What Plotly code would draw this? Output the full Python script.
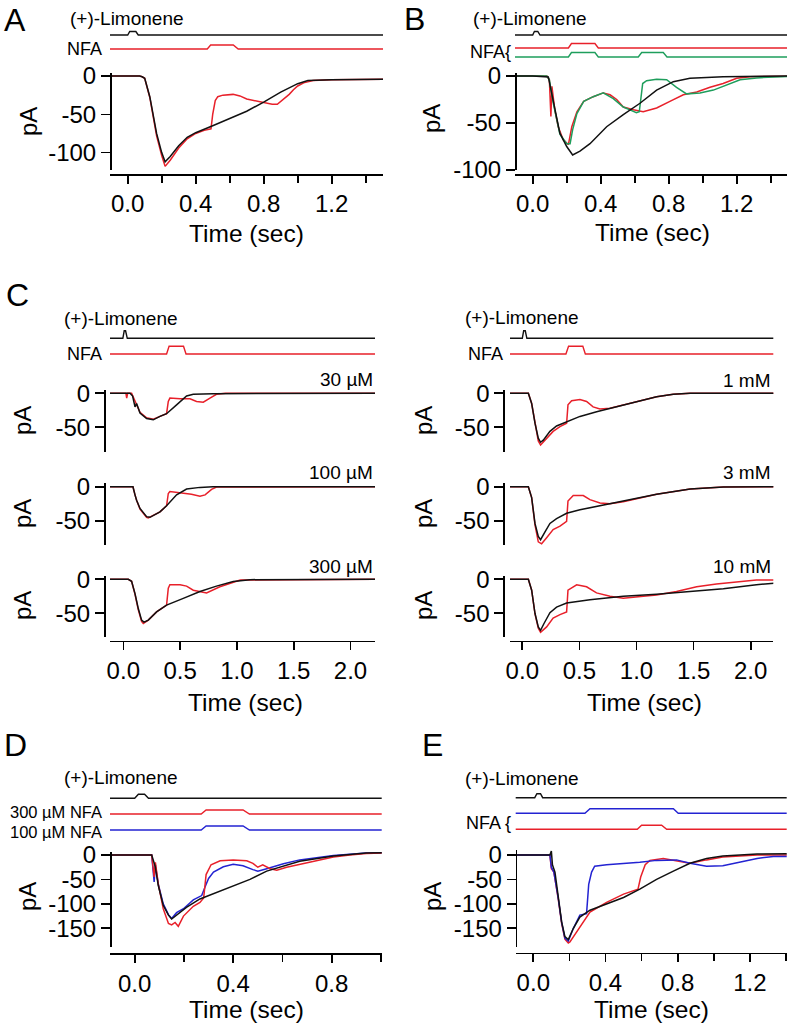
import plotly.graph_objects as go

W, H = 789, 1026
FONT = "Arial, 'Liberation Sans', Helvetica, sans-serif"
BLACK = "#111111"
RED = "#e8202a"
GREEN = "#1e9e5c"
BLUE = "#2323d2"

# ---------------- DATA ----------------
# Panel A
A_ctrl_t = [-0.12, 0.0, 0.07, 0.085, 0.1, 0.13, 0.17, 0.2, 0.22, 0.25, 0.3, 0.35, 0.4, 0.5, 0.6, 0.7, 0.8, 0.9, 1.0, 1.06, 1.2, 1.35, 1.55]
A_ctrl = [0, 0, 0, -1, -3, -27, -75, -100, -112, -105, -91, -80, -74, -65, -56, -46, -34, -21, -10, -6, -5, -5, -4]
A_nfa_t = [-0.12, 0.0, 0.07, 0.085, 0.1, 0.13, 0.17, 0.2, 0.22, 0.25, 0.3, 0.35, 0.4, 0.45, 0.49, 0.5, 0.515, 0.53, 0.56, 0.62, 0.66, 0.7, 0.74, 0.8, 0.85, 0.88, 0.915, 0.95, 0.975, 1.0, 1.035, 1.09, 1.2, 1.55]
A_nfa = [0, 0, 0, -1, -3, -28, -78, -104, -118, -110, -94, -82, -75, -71, -69, -50, -32, -27, -25, -24, -26, -30, -32, -35, -37, -37, -31, -24, -18, -13, -9, -6, -5, -4]
A_lim_t = [-0.12, 0.0, 0.012, 0.048, 0.062, 1.55]
A_lim_v = [0, 0, 1, 1, 0, 0]
A_cmd_t = [-0.12, 0.468, 0.488, 0.621, 0.65, 1.55]
A_cmd_v = [0, 0, 1, 1, 0, 0]

# Panel B
B_ctrl_t = [-0.12, 0.0, 0.092, 0.1, 0.12, 0.16, 0.2, 0.235, 0.278, 0.337, 0.435, 0.533, 0.631, 0.729, 0.827, 0.925, 1.12, 1.55]
B_ctrl = [0, 0, -1, -8, -25, -61, -75, -84, -80, -72, -54, -41, -29, -15, -6, -2.5, -0.7, 0]
B_red_t = [-0.12, 0.083, 0.098, 0.107, 0.113, 0.13, 0.15, 0.18, 0.21, 0.23, 0.26, 0.3, 0.356, 0.415, 0.455, 0.494, 0.533, 0.592, 0.65, 0.729, 0.807, 0.886, 0.965, 1.043, 1.12, 1.2, 1.278, 1.55]
B_red = [0, 0, -4, -43, -11, -36, -54, -68, -73, -54, -38, -27, -22, -18, -20, -25, -33, -36, -38, -34, -27, -20, -17, -12, -8, -2.5, -0.7, 0]
B_grn_t = [-0.12, 0.083, 0.098, 0.12, 0.16, 0.2, 0.22, 0.235, 0.26, 0.3, 0.356, 0.415, 0.474, 0.533, 0.572, 0.61, 0.627, 0.647, 0.67, 0.729, 0.788, 0.846, 0.905, 0.984, 1.063, 1.14, 1.22, 1.317, 1.55]
B_grn = [0, 0, -4, -28, -62, -72, -72, -57, -40, -27, -22, -18, -24, -33, -36, -39, -38, -8, -5, -3.5, -4, -12, -19, -18, -15, -10, -4, -2, 0]
B_lim_t = [-0.12, 0.0, 0.01, 0.03, 0.043, 1.55]
B_lim_v = [0, 0, 1, 1, 0, 0]
B_cmd1_t = [-0.12, 0.21, 0.228, 0.366, 0.386, 1.55]
B_cmd1_v = [0, 0, 1, 1, 0, 0]
B_cmd2_t = [-0.12, 0.21, 0.228, 0.366, 0.386, 0.621, 0.641, 0.768, 0.79, 1.55]
B_cmd2_v = [0, 0, 1, 1, 0, 0, 1, 1, 0, 0]

# Panel C, left column (30, 100, 300 uM NFA)
C30_ctrl_t = [-0.13, 0.059, 0.082, 0.103, 0.117, 0.147, 0.205, 0.264, 0.323, 0.381, 0.469, 0.557, 0.616, 0.79, 2.25]
C30_ctrl = [0, 0, -4, -20, -15, -29, -37, -39, -34, -30, -17, -4, -1.5, -0.5, 0]
C30_nfa_t = [-0.13, 0.023, 0.03, 0.038, 0.073, 0.103, 0.147, 0.205, 0.264, 0.323, 0.381, 0.396, 0.41, 0.5, 0.587, 0.645, 0.704, 0.763, 0.82, 0.9, 2.25]
C30_nfa = [0, 0, -7, 0, 0, -12, -28, -36, -38, -34, -30, -12, -7, -8, -8, -12, -13, -7, -1.5, 0, 0]
C100_ctrl_t = [-0.13, 0.085, 0.103, 0.117, 0.147, 0.205, 0.235, 0.323, 0.381, 0.469, 0.557, 0.675, 0.79, 2.25]
C100_ctrl = [0, 0, -12, -20, -32, -44, -45, -37, -28, -12, -3.4, -1, 0, 0]
C100_nfa_t = [-0.13, 0.085, 0.103, 0.117, 0.147, 0.205, 0.22, 0.323, 0.381, 0.396, 0.41, 0.528, 0.6, 0.675, 0.72, 0.777, 0.82, 2.25]
C100_nfa = [0, 0, -12, -20, -33, -45, -46, -37, -28, -10, -7, -9, -11, -14, -12, -4, -0.5, 0]
C300_ctrl_t = [-0.13, 0.044, 0.073, 0.103, 0.132, 0.161, 0.182, 0.22, 0.293, 0.381, 0.528, 0.675, 0.82, 0.968, 1.115, 2.25]
C300_ctrl = [0, 0, -3, -21, -43, -60, -63, -60, -48, -38, -28, -18, -10, -3.4, -0.5, 0]
C300_nfa_t = [-0.13, 0.044, 0.073, 0.103, 0.132, 0.161, 0.176, 0.22, 0.293, 0.381, 0.396, 0.41, 0.5, 0.557, 0.616, 0.733, 0.85, 0.94, 1.03, 2.25]
C300_nfa = [0, 0, -3, -22, -45, -62, -65, -60, -48, -38, -13, -8, -8, -10, -16, -20, -11, -6, -1, 0]
CL_lim_t = [-0.13, -0.004, 0.008, 0.02, 0.035, 2.25]
CL_lim_v = [0, 0, 1, 1, 0, 0]
CL_cmd_t = [-0.13, 0.381, 0.403, 0.53, 0.552, 2.25]
CL_cmd_v = [0, 0, 1, 1, 0, 0]

# Panel C, right column (1, 3, 10 mM NFA)
C1_ctrl_t = [-0.13, 0.053, 0.082, 0.111, 0.14, 0.16, 0.184, 0.242, 0.3, 0.388, 0.505, 0.651, 0.884, 1.06, 1.176, 1.322, 1.47, 2.25]
C1_ctrl = [0, 0, -15, -44, -66, -72, -69, -56, -48, -42, -34, -27, -17, -9, -5, -1.5, 0, 0]
C1_nfa_t = [-0.13, 0.053, 0.082, 0.111, 0.14, 0.16, 0.213, 0.27, 0.33, 0.388, 0.4, 0.432, 0.505, 0.563, 0.62, 0.68, 0.768, 0.884, 1.06, 1.176, 1.322, 1.47, 2.25]
C1_nfa = [0, 0, -15, -45, -70, -76, -66, -56, -49, -44, -17, -11, -9, -12, -20, -23, -22, -17, -9, -5, -1.5, 0, 0]
C3_ctrl_t = [-0.13, 0.053, 0.082, 0.111, 0.14, 0.16, 0.2, 0.242, 0.3, 0.388, 0.505, 0.651, 0.884, 1.176, 1.47, 1.76, 2.25]
C3_ctrl = [0, 0, -16, -54, -73, -78, -66, -54, -47, -39, -34, -29, -22, -11, -3.4, -0.5, 0]
C3_nfa_t = [-0.13, 0.053, 0.082, 0.111, 0.14, 0.169, 0.213, 0.27, 0.33, 0.388, 0.4, 0.446, 0.534, 0.592, 0.68, 0.768, 0.884, 1.176, 1.47, 1.76, 2.25]
C3_nfa = [0, 0, -16, -56, -81, -84, -75, -63, -58, -51, -21, -13, -13, -19, -24, -25, -22, -11, -3.4, -0.5, 0]
C10_ctrl_t = [-0.13, 0.053, 0.082, 0.111, 0.14, 0.16, 0.19, 0.242, 0.3, 0.388, 0.592, 0.884, 1.176, 1.47, 1.76, 2.05, 2.25]
C10_ctrl = [0, 0, -16, -50, -70, -75, -65, -49, -41, -35, -30, -25, -22, -18, -14, -8, -5]
C10_nfa_t = [-0.13, 0.053, 0.082, 0.111, 0.14, 0.16, 0.213, 0.27, 0.33, 0.388, 0.4, 0.476, 0.563, 0.65, 0.768, 0.884, 1.06, 1.176, 1.35, 1.527, 1.7, 1.906, 2.05, 2.25]
C10_nfa = [0, 0, -16, -51, -72, -78, -70, -57, -52, -48, -16, -8, -11, -20, -25, -28, -25, -23, -18, -11, -7, -3.4, -1, -1]
CR_lim_t = [-0.13, 0.0, 0.012, 0.026, 0.04, 2.25]
CR_lim_v = [0, 0, 1, 1, 0, 0]
CR_cmd_t = [-0.13, 0.382, 0.405, 0.53, 0.552, 2.25]
CR_cmd_v = [0, 0, 1, 1, 0, 0]

# Panel D
D_ctrl_t = [-0.12, 0.069, 0.083, 0.096, 0.116, 0.137, 0.15, 0.17, 0.21, 0.265, 0.333, 0.4, 0.468, 0.536, 0.604, 0.67, 0.807, 0.94, 1.05]
D_ctrl = [0, 0, -23, -63, -103, -123, -131, -123, -107, -90, -77, -63, -50, -33, -23, -13, -2, 4, 5]
D_300_t = [-0.12, 0.069, 0.079, 0.084, 0.096, 0.116, 0.137, 0.15, 0.164, 0.177, 0.198, 0.238, 0.265, 0.28, 0.29, 0.31, 0.347, 0.4, 0.455, 0.48, 0.5, 0.52, 0.55, 0.577, 0.617, 0.67, 0.74, 0.807, 0.874, 0.94, 1.05]
D_300 = [0, 0, -45, -15, -60, -110, -140, -143, -138, -146, -125, -105, -97, -88, -40, -20, -12, -10, -12, -17, -25, -20, -28, -31, -25, -19, -11, -4, 0, 3, 5]
D_100_t = [-0.12, 0.069, 0.079, 0.084, 0.096, 0.116, 0.137, 0.15, 0.17, 0.198, 0.238, 0.272, 0.286, 0.3, 0.32, 0.36, 0.4, 0.44, 0.48, 0.5, 0.536, 0.604, 0.67, 0.807, 0.94, 1.05]
D_100 = [0, 0, -55, -20, -60, -100, -122, -130, -118, -110, -92, -83, -65, -48, -35, -24, -19, -22, -30, -33, -28, -18, -10, -1, 4, 5]
D_lim_t = [-0.12, 0.0, 0.015, 0.04, 0.056, 1.05]
D_lim_v = [0, 0, 1, 1, 0, 0]
D_cmd_t = [-0.12, 0.27, 0.29, 0.44, 0.466, 1.05]
D_cmd_v = [0, 0, 1, 1, 0, 0]

# Panel E
E_ctrl_t = [-0.12, 0.092, 0.1, 0.106, 0.12, 0.138, 0.157, 0.175, 0.194, 0.222, 0.258, 0.314, 0.406, 0.5, 0.59, 0.683, 0.776, 0.868, 0.96, 1.05, 1.24, 1.45]
E_ctrl = [0, 0, 8, -20, -35, -83, -137, -167, -173, -150, -127, -113, -100, -87, -70, -50, -33, -17, -7, -2, 2, 3]
E_red_t = [-0.12, 0.092, 0.1, 0.114, 0.138, 0.157, 0.175, 0.194, 0.203, 0.24, 0.314, 0.406, 0.5, 0.58, 0.595, 0.62, 0.646, 0.72, 0.794, 0.868, 0.96, 1.05, 1.24, 1.45]
E_red = [0, 0, -28, -35, -90, -140, -172, -180, -178, -157, -117, -97, -80, -70, -45, -20, -11, -7, -12, -17, -10, -4, 0, 0]
E_blue_t = [-0.12, 0.092, 0.1, 0.114, 0.138, 0.157, 0.175, 0.194, 0.222, 0.258, 0.295, 0.307, 0.323, 0.34, 0.406, 0.5, 0.59, 0.683, 0.794, 0.868, 0.96, 1.05, 1.145, 1.24, 1.33, 1.45]
E_blue = [0, 0, -25, -35, -88, -138, -170, -176, -150, -123, -120, -60, -35, -23, -20, -18, -15, -11, -10, -17, -23, -22, -15, -7, -3, -3]
E_lim_t = [-0.12, 0.008, 0.02, 0.04, 0.052, 1.45]
E_lim_v = [0, 0, 1, 1, 0, 0]
E_cmd_blue_t = [-0.12, 0.286, 0.314, 0.776, 0.803, 1.45]
E_cmd_blue_v = [0, 0, 1, 1, 0, 0]
E_cmd_red_t = [-0.12, 0.576, 0.6, 0.711, 0.739, 1.45]
E_cmd_red_v = [0, 0, 1, 1, 0, 0]

# Tick labels
tick_A = [0.0, 0.4, 0.8, 1.2]
minor_A = [0.2, 0.6, 1.0, 1.4]
tick_C = [0.0, 0.5, 1.0, 1.5, 2.0]
tick_D = [0.0, 0.4, 0.8]
minor_D = [0.2, 0.6, 1.0]
tick_E = [0.0, 0.4, 0.8, 1.2]
minor_E = [0.2, 0.6, 1.0, 1.4]
ytick_A = [0, -50, -100]
ytick_C = [0, -50]
ytick_D = [0, -50, -100, -150]

# ---------------- helpers ----------------
fig = go.Figure()
layout = dict(
    width=W, height=H, margin=dict(l=0, r=0, t=0, b=0, pad=0, autoexpand=False),
    paper_bgcolor="white", plot_bgcolor="rgba(0,0,0,0)",
    showlegend=False, font=dict(family=FONT, color="black"),
)
annotations = []
TICKFONT = dict(family=FONT, size=24, color="black")


def fx(px):
    return px / W


def fy(py):
    return 1 - py / H


def add_x(n, left, right, zero, ppu, ypos, major, minor=None):
    ax = dict(
        domain=[fx(left), fx(right)],
        range=[(left - zero) / ppu, (right - zero) / ppu],
        anchor="free", position=fy(ypos), automargin=False,
        showline=True, linecolor="black", linewidth=1.6,
        ticks="outside", ticklen=8, tickwidth=1.6, tickcolor="black",
        tickmode="array", tickvals=major, ticktext=["%.1f" % v for v in major],
        tickfont=TICKFONT, showgrid=False, zeroline=False, fixedrange=True,
    )
    if minor:
        ax["minor"] = dict(tickmode="array", tickvals=minor, ticks="outside",
                           ticklen=7, tickwidth=1.6, tickcolor="black", showgrid=False)
    layout["xaxis" if n == 1 else "xaxis%d" % n] = ax


def add_y(n, top, bot, zero, ppp, xpos, ticks_):
    layout["yaxis" if n == 1 else "yaxis%d" % n] = dict(
        domain=[fy(bot), fy(top)],
        range=[(zero - bot) / ppp, (zero - top) / ppp],
        anchor="free", position=fx(xpos), automargin=False,
        showline=True, linecolor="black", linewidth=1.6,
        ticks="outside", ticklen=9, tickwidth=1.6, tickcolor="black",
        tickmode="array", tickvals=ticks_, ticktext=[str(v) for v in ticks_],
        tickfont=TICKFONT, showgrid=False, zeroline=False, fixedrange=True,
    )


def add_stim_axis(n, top, bot):
    layout["yaxis%d" % n] = dict(
        domain=[fy(bot), fy(top)], range=[-bot, -top], automargin=False,
        visible=False, showgrid=False, zeroline=False, fixedrange=True, anchor="free", position=0,
    )


def xr(n):
    return "x" if n == 1 else "x%d" % n


def yr(n):
    return "y" if n == 1 else "y%d" % n


def trace(xn, yn, t, v, color, width=1.5):
    fig.add_trace(go.Scatter(x=t, y=v, xaxis=xr(xn), yaxis=yr(yn), mode="lines",
                             line=dict(color=color, width=width), hoverinfo="skip"))


def stim(xn, yn, t, v, base_px, amp_px, color):
    fig.add_trace(go.Scatter(x=t, y=[-base_px + amp_px * s for s in v], xaxis=xr(xn), yaxis=yr(yn),
                             mode="lines", line=dict(color=color, width=1.4), hoverinfo="skip"))


def text(s, x, y, size, xanchor="left", angle=0):
    annotations.append(dict(text=s, x=fx(x), y=fy(y), xref="paper", yref="paper",
                            xanchor=xanchor, yanchor="middle", showarrow=False, textangle=angle,
                            font=dict(family=FONT, size=size, color="black")))


# ---------------- Panel A ----------------
add_x(1, 110, 383, 127.7, 170, 174, tick_A, minor_A)
add_y(1, 73, 170, 76, 38.3 / 50, 110, ytick_A)
add_stim_axis(2, 25, 60)
trace(1, 1, A_nfa_t, A_nfa, RED)
trace(1, 1, A_ctrl_t, A_ctrl, BLACK)
stim(1, 2, A_lim_t, A_lim_v, 35, 3.5, BLACK)
stim(1, 2, A_cmd_t, A_cmd_v, 49, 4, RED)

# ---------------- Panel B ----------------
add_x(2, 515, 787, 532.7, 170, 174, tick_A, minor_A)
add_y(3, 73, 170, 76, 47 / 50, 515, ytick_A)
add_stim_axis(4, 25, 64)
trace(2, 3, B_red_t, B_red, RED)
trace(2, 3, B_grn_t, B_grn, GREEN)
trace(2, 3, B_ctrl_t, B_ctrl, BLACK)
stim(2, 4, B_lim_t, B_lim_v, 35, 3.5, BLACK)
stim(2, 4, B_cmd1_t, B_cmd1_v, 48, 4.5, RED)
stim(2, 4, B_cmd2_t, B_cmd2_v, 57, 4.5, GREEN)

# ---------------- Panel C ----------------
C_rows = [(390, 452, 393.3), (482.7, 545, 486.7), (576, 637, 579.3)]
C_left = [(C30_ctrl_t, C30_ctrl, C30_nfa_t, C30_nfa), (C100_ctrl_t, C100_ctrl, C100_nfa_t, C100_nfa),
          (C300_ctrl_t, C300_ctrl, C300_nfa_t, C300_nfa)]
C_right = [(C1_ctrl_t, C1_ctrl, C1_nfa_t, C1_nfa), (C3_ctrl_t, C3_ctrl, C3_nfa_t, C3_nfa),
           (C10_ctrl_t, C10_ctrl, C10_nfa_t, C10_nfa)]
add_x(3, 110, 375, 123.3, 113.6, 640.7, tick_C)
add_x(4, 510, 773.3, 522.3, 114.2, 640.7, tick_C)
for i, (top, bot, zero) in enumerate(C_rows):
    add_y(5 + i, top, bot, zero, 34 / 50, 104, ytick_C)
    add_y(9 + i, top, bot, zero, 34 / 50, 503.3, ytick_C)
    ct, cv, nt, nv = C_left[i]
    trace(3, 5 + i, nt, nv, RED)
    trace(3, 5 + i, ct, cv, BLACK)
    ct, cv, nt, nv = C_right[i]
    trace(4, 9 + i, nt, nv, RED)
    trace(4, 9 + i, ct, cv, BLACK)
add_stim_axis(8, 325, 362)
add_stim_axis(12, 325, 362)
stim(3, 8, CL_lim_t, CL_lim_v, 338.3, 7.5, BLACK)
stim(3, 8, CL_cmd_t, CL_cmd_v, 354, 7.7, RED)
stim(4, 12, CR_lim_t, CR_lim_v, 338.3, 7.5, BLACK)
stim(4, 12, CR_cmd_t, CR_cmd_v, 354, 7.7, RED)

# ---------------- Panel D ----------------
add_x(5, 110, 381.7, 134.7, 246.25, 953.3, tick_D, minor_D)
add_y(13, 851.7, 946.7, 855, 73.3 / 150, 110, ytick_D)
add_stim_axis(14, 788, 838)
trace(5, 13, D_100_t, D_100, BLUE)
trace(5, 13, D_300_t, D_300, RED)
trace(5, 13, D_ctrl_t, D_ctrl, BLACK)
stim(5, 14, D_lim_t, D_lim_v, 798.3, 4, BLACK)
stim(5, 14, D_cmd_t, D_cmd_v, 814, 4, RED)
stim(5, 14, D_cmd_t, D_cmd_v, 830, 4, BLUE)

# ---------------- Panel E ----------------
add_x(6, 515.7, 786.7, 533.3, 180.5, 952.7, tick_E, minor_E)
add_y(15, 850, 946.7, 855, 73.3 / 150, 515.7, ytick_D)
add_stim_axis(16, 788, 838)
trace(6, 15, E_red_t, E_red, RED)
trace(6, 15, E_blue_t, E_blue, BLUE)
trace(6, 15, E_ctrl_t, E_ctrl, BLACK)
stim(6, 16, E_lim_t, E_lim_v, 797.7, 4, BLACK)
stim(6, 16, E_cmd_blue_t, E_cmd_blue_v, 813.3, 4.5, BLUE)
stim(6, 16, E_cmd_red_t, E_cmd_red_v, 829.3, 4, RED)

# ---------------- Text ----------------
for s, x, y in [("A", 2, 20), ("B", 402, 19), ("C", 4, 295), ("D", 2, 745), ("E", 420, 745)]:
    text(s, x, y, 32)
for x, y in [(68, 19), (471, 18), (62, 318.5), (463, 318), (62, 777), (463, 778)]:
    text("(+)-Limonene", x, y, 19)
text("NFA", 104, 49, 18, "right")
text("NFA{", 513, 52, 18, "right")
text("NFA", 104, 354, 18, "right")
text("NFA", 505, 354, 18, "right")
text("300 µM NFA", 104, 812, 16.5, "right")
text("100 µM NFA", 104, 832, 16.5, "right")
text("NFA {", 513, 823, 18, "right")
for s, y in [("30 µM", 379), ("100 µM", 472.7), ("300 µM", 566)]:
    text(s, 375, y, 19, "right")
for s, y in [("1 mM", 380), ("3 mM", 472.7), ("10 mM", 566.7)]:
    text(s, 773, y, 19, "right")
for x, y in [(28.5, 121.5), (432, 119), (22, 421), (22, 514), (22, 606), (423, 421), (423, 514), (423, 606),
             (27, 897), (432, 897)]:
    text("pA", x, y, 24, "center", -90)
for x, y in [(246, 233), (652, 232), (245, 702), (644, 702), (246, 1009), (651, 1009)]:
    text("Time (sec)", x, y, 24.5, "center")

layout["annotations"] = annotations
fig.update_layout(**layout)
fig.write_html("out.html", config={"displayModeBar": False, "staticPlot": True},
               post_script="document.body.style.margin='0px';")
